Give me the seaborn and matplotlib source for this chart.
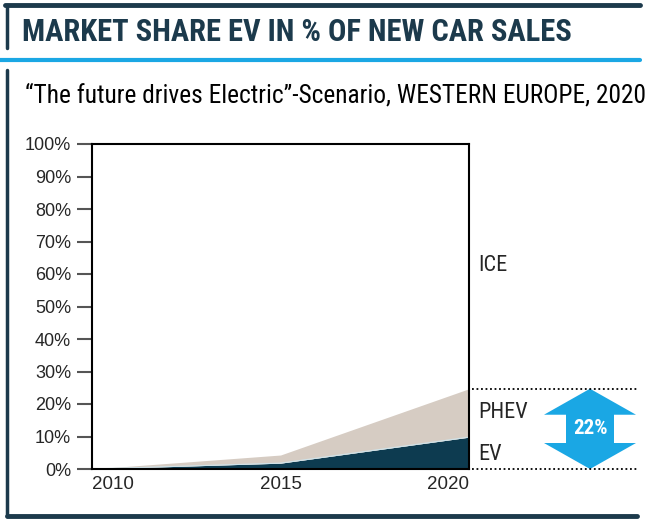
import numpy as np
import pandas as pd
import matplotlib as mpl
mpl.use('Agg')
import matplotlib.pyplot as plt
import seaborn as sns
from matplotlib.patches import Polygon
from matplotlib.lines import Line2D

# datos
anios = [2010, 2015, 2020]
ev = [0.0, 1.8, 9.8]
phev = [0.0, 2.5, 14.9]
etiquetas_serie = ['EV', 'PHEV', 'ICE']
etiqueta_flecha = '22%'
yticks = list(range(0, 101, 10))

titulo = 'MARKET SHARE EV IN % OF NEW CAR SALES'
subtitulo = '\u201cThe future drives Electric\u201d-Scenario, WESTERN EUROPE, 2020'

col_ev = '#0d3b50'
col_phev = '#d6ccc3'
col_azul = '#1aa7e4'
col_oscuro = '#1c3a4c'

sns.set_style('white')
angosta = ['Roboto Condensed', 'DejaVu Sans']
normal = ['Liberation Sans', 'DejaVu Sans']
plt.rcParams['font.family'] = normal

df = pd.DataFrame({'anio': anios, 'EV': ev, 'PHEV': phev})
df['total'] = df['EV'] + df['PHEV']

fig = plt.figure(figsize=(6.57, 5.25), dpi=100)
ax = fig.add_axes([92/657, 1-469/525, 377/657, 325/525])

ax.fill_between(df['anio'], 0, df['EV'], color=col_ev, lw=0)
ax.fill_between(df['anio'], df['EV'], df['total'], color=col_phev, lw=0)
sns.lineplot(data=df, x='anio', y='EV', ax=ax, color='#cfe3ea', lw=0.8)

ax.set_xlim(2010, 2020)
ax.set_ylim(0, 100)
ax.set_yticks(yticks)
ax.set_yticklabels([f'{v}%' for v in yticks], fontsize=13, family=normal)
ax.set_xticks(anios)
ax.set_xticklabels([str(a) for a in anios], fontsize=13.5, family=normal)
xl = ax.get_xticklabels()
xl[0].set_ha('left')
xl[-1].set_ha('right')
ax.set_xlabel('')
ax.set_ylabel('')
ax.tick_params(axis='y', length=11, width=1.5, color='#555555', pad=4, left=True)
ax.tick_params(axis='x', length=0, pad=5)
for s in ax.spines.values():
    s.set_color('black')
    s.set_linewidth(1.5)

# etiquetas de series a la derecha
tr = mpl.transforms.blended_transform_factory(fig.transFigure, ax.transData)
ax.text(478/657, 62.5, etiquetas_serie[2], transform=tr, fontsize=16, family=angosta, va='center')
ax.text(478/657, (df['EV'].iloc[-1] + df['total'].iloc[-1]) / 2, etiquetas_serie[1],
        transform=tr, fontsize=16, family=angosta, va='center')
ax.text(478/657, df['EV'].iloc[-1] / 2 - 0.5, etiquetas_serie[0], transform=tr, fontsize=16,
        family=angosta, va='center')

# lineas punteadas y flecha
tot = df['total'].iloc[-1]
for yv in [0, tot]:
    ax.add_line(Line2D([472/657, 637/657], [yv, yv], transform=tr, color='black',
                       ls=(0, (1, 1.5)), lw=1.3, clip_on=False))

cx, bw, hw = 590/657, 24/657, 46/657
hh = 8.0
pts = [(cx, tot), (cx + hw, tot - hh), (cx + bw, tot - hh), (cx + bw, hh), (cx + hw, hh),
       (cx, 0), (cx - hw, hh), (cx - bw, hh), (cx - bw, tot - hh), (cx - hw, tot - hh)]
ax.add_patch(Polygon(pts, closed=True, transform=tr, color=col_azul, clip_on=False, lw=0))
ax.text(cx, tot / 2, etiqueta_flecha, transform=tr, color='white', fontsize=15,
        family=angosta, fontweight='bold', ha='center', va='center')

# marco y titulos
fig.add_artist(Line2D([5/657, 640/657], [1-5/525, 1-5/525], color=col_oscuro, lw=3.5))
fig.add_artist(Line2D([7/657, 7/657], [1-5/525, 1-48/525], color=col_oscuro, lw=2.5))
fig.add_artist(Line2D([0, 640/657], [1-60/525, 1-60/525], color=col_azul, lw=3))
fig.add_artist(Line2D([7/657, 7/657], [1-70/525, 1-516/525], color=col_oscuro, lw=2.5))
fig.add_artist(Line2D([7/657, 637/657], [1-516/525, 1-516/525], color=col_oscuro, lw=3.5))

fig.text(22/657, 1-32/525, titulo, fontsize=22, fontweight='bold', color=col_oscuro,
         family=angosta, va='center', ha='left')
fig.text(25/657, 1-95/525, subtitulo, fontsize=18.3, color='black', family=angosta,
         va='center', ha='left')

fig.savefig('out.png', dpi=100)
